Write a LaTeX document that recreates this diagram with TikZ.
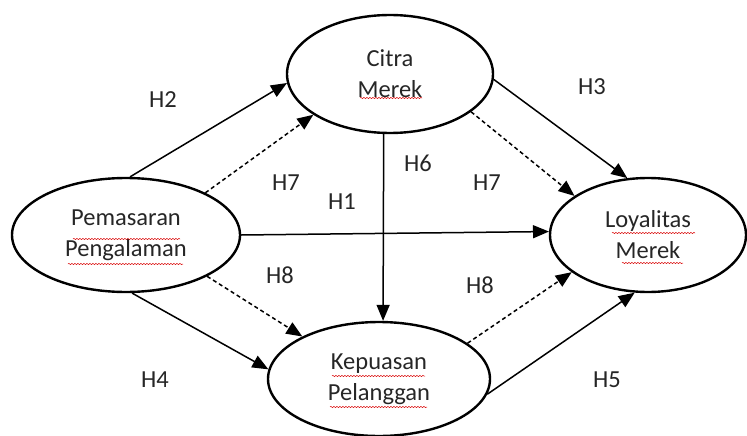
\documentclass[tikz,border=0pt]{standalone}
\usepackage{fontspec}
\setmainfont{Carlito}
\usepackage{tikz}
\usetikzlibrary{shapes.geometric}
\usetikzlibrary{arrows.meta}
\usetikzlibrary{decorations.pathmorphing}

\begin{document}
\begin{tikzpicture}[x=1pt, y=-1pt, font=\fontsize{24.5}{31}\selectfont, text=black!85]

		\tikzset{
			construct/.style={draw, ellipse, line width=2.4pt, inner sep=0pt, align=center},
			path/.style={line width=1.5pt, -{Triangle[length=16pt, width=13pt]}},
			indirect/.style={path, dash pattern=on 4pt off 3pt},
			spell/.style={decorate, decoration={snake, segment length=3pt, amplitude=0.6pt}, draw=red!85!black, line width=0.5pt},
		}

		\useasboundingbox (0,0) rectangle (747,436);

		\node [construct, minimum width=228pt, minimum height=114pt] (pem) at (126,235) {Pemasaran\\Pengalaman};
		\node [construct, minimum width=206pt, minimum height=118pt] (cit) at (390,74) {Citra\\Merek};
		\node [construct, minimum width=222pt, minimum height=114pt] (kep) at (379,379) {Kepuasan\\Pelanggan};
		\node [construct, minimum width=196pt, minimum height=114pt] (loy) at (648,235) {Loyalitas\\Merek};

		\draw [path] (pem.86) -- (cit.185);
		\draw [indirect] (pem.28) -- (cit.208);
		\draw [path] (cit.-3) -- (loy.110);
		\draw [indirect] (cit.-25) -- (loy.152);
		\draw [path] (pem.east) -- (loy.178);
		\draw [path] (cit.-96) -- (kep.86);
		\draw [indirect] (pem.-27) -- (kep.151);
		\draw [path] (pem.-84) -- (kep.175);
		\draw [indirect] (kep.22) -- (loy.206);
		\draw [path] (kep.-8) -- (loy.257);

		\node (h2) at (163,100) {H2};
		\node (h7a) at (286,183) {H7};
		\node (h1) at (342,202) {H1};
		\node (h6) at (418,163) {H6};
		\node (h7b) at (487,183) {H7};
		\node (h3) at (592,87) {H3};
		\node (h8a) at (280,275) {H8};
		\node (h4) at (155,380) {H4};
		\node (h8b) at (480,285) {H8};
		\node (h5) at (607,380) {H5};

		% spelling marks
		\draw [spell] (73,239) -- (180,239);
		\draw [spell] (68,264) -- (183,264);
		\draw [spell] (360,98) -- (422,98);
		\draw [spell] (332,376) -- (425,376);
		\draw [spell] (330,407) -- (427,407);
		\draw [spell] (612,233) -- (695,233);
		\draw [spell] (622,263) -- (683,263);
\end{tikzpicture}
\end{document}
